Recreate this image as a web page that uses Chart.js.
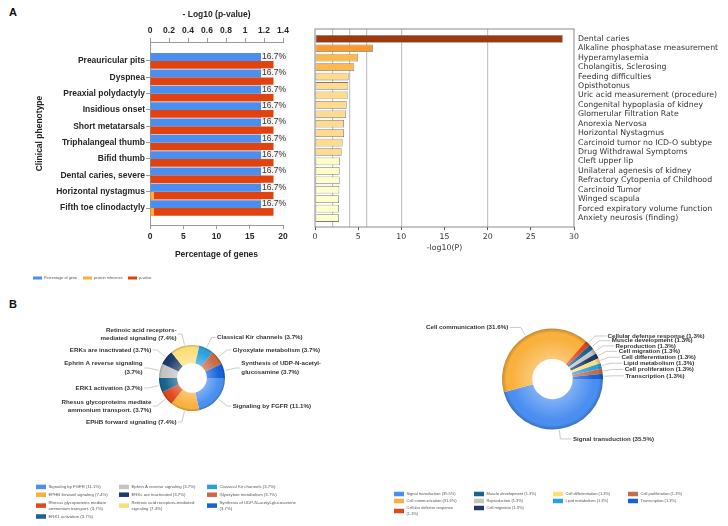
<!DOCTYPE html>
<html>
<head>
<meta charset="utf-8">
<script src="https://cdn.jsdelivr.net/npm/chart.js@4.4.1/dist/chart.umd.min.js"></script>
<style>
  html, body { margin: 0; padding: 0; background: #fff; }
  body { width: 728px; height: 526px; position: relative; overflow: hidden; }
  .box { position: absolute; }
  .tag { position: absolute; font: bold 11px/11px "Liberation Sans", Arial, sans-serif; color: #111; }
</style>
</head>
<body>
<div class="tag" style="left:9px;top:7px">A</div>
<div class="tag" style="left:9px;top:299px">B</div>
<div class="box" style="left:0;top:0;width:300px;height:290px"><canvas id="phenoChart"></canvas></div>
<div class="box" style="left:300px;top:20px;width:428px;height:240px"><canvas id="enrichChart"></canvas></div>
<div class="box" style="left:0;top:300px;width:364px;height:226px"><canvas id="pathwayChart"></canvas></div>
<div class="box" style="left:364px;top:300px;width:364px;height:226px"><canvas id="processChart"></canvas></div>
<script>
// panel A, left: clinical phenotypes
const phenotypes = ["Preauricular pits", "Dyspnea", "Preaxial polydactyly", "Insidious onset", "Short metatarsals",
  "Triphalangeal thumb", "Bifid thumb", "Dental caries, severe", "Horizontal nystagmus", "Fifth toe clinodactyly"];
const geneShare = [16.7, 16.7, 16.7, 16.7, 16.7, 16.7, 16.7, 16.7, 16.7, 16.7];
const proteinReference = [0, 0, 0, 0, 0, 0, 0, 0, 0.6, 0.6];
const phenoLogP = [1.3, 1.3, 1.3, 1.3, 1.3, 1.3, 1.3, 1.3, 1.3, 1.3];
const shareTicks = [0, 5, 10, 15, 20];
const logPTicks = [0, 0.2, 0.4, 0.6, 0.8, 1, 1.2, 1.4];

// panel A, right: enrichment terms
const enrichTerms = ["Dental caries", "Alkaline phosphatase measurement", "Hyperamylasemia", "Cholangitis, Sclerosing",
  "Feeding difficulties", "Opisthotonus", "Uric acid measurement (procedure)", "Congenital hypoplasia of kidney",
  "Glomerular Filtration Rate", "Anorexia Nervosa", "Horizontal Nystagmus", "Carcinoid tumor no ICD-O subtype",
  "Drug Withdrawal Symptoms", "Cleft upper lip", "Unilateral agenesis of kidney", "Refractory Cytopenia of Childhood",
  "Carcinoid Tumor", "Winged scapula", "Forced expiratory volume function", "Anxiety neurosis (finding)"];
const enrichLogP = [28.7, 6.7, 5.0, 4.55, 3.9, 3.85, 3.78, 3.67, 3.6, 3.36, 3.36, 3.2, 3.09, 2.9, 2.86, 2.86, 2.82, 2.78, 2.78, 2.78];
const enrichTicks = [0, 5, 10, 15, 20, 25, 30];
const enrichGuides = [2, 4, 6, 10, 20];

// panel B: pathways and biological processes
const pathways = ["Signaling by FGFR", "EPHB forward signaling", "Rhesus glycoproteins mediate ammonium transport.",
  "ERK1 activation", "Ephrin A reverse signaling", "ERKs are inactivated", "Retinoic acid receptors-mediated signaling",
  "Classical Kir channels", "Glyoxylate metabolism", "Synthesis of UDP-N-acetyl-glucosamine"];
const pathwayShare = [11.1, 7.4, 3.7, 3.7, 3.7, 3.7, 7.4, 3.7, 3.7, 3.7];
const processes = ["Signal transduction", "Cell communication", "Cellular defense response", "Muscle development",
  "Reproduction", "Cell migration", "Cell differentiation", "Lipid metabolism", "Cell proliferation", "Transcription"];
const processShare = [35.5, 31.6, 1.3, 1.3, 1.3, 1.3, 1.3, 1.3, 1.3, 1.3];

const ringColors = ["#4a8ef0", "#f9b03c", "#e2461c", "#17648f", "#c4c4c4", "#1d3b6b", "#fddf7a", "#2aa0de", "#c96a4a", "#1463d8"];

Chart.defaults.font.family = "'Liberation Sans', Arial, sans-serif";
Chart.defaults.color = "#262626";
Chart.defaults.animation = false;
Chart.defaults.plugins.legend.display = false;
Chart.defaults.plugins.tooltip.enabled = false;

function shade(hex, amt) {
  const n = parseInt(hex.slice(1), 16);
  const t = amt < 0 ? 0 : 255, p = Math.abs(amt);
  const mix = v => Math.round(v + (t - v) * p);
  return `rgb(${mix(n >> 16)},${mix((n >> 8) & 255)},${mix(n & 255)})`;
}

function ringFill(colors) {
  return c => {
    const base = colors[c.dataIndex];
    const chart = c.chart, area = chart.chartArea;
    const ctrl = chart.getDatasetMeta(0).controller;
    if (!area || !ctrl.outerRadius) return base;
    const cx = (area.left + area.right) / 2, cy = (area.top + area.bottom) / 2;
    const g = chart.ctx.createRadialGradient(cx, cy, ctrl.innerRadius, cx, cy, ctrl.outerRadius);
    g.addColorStop(0, shade(base, 0.3));
    g.addColorStop(0.7, base);
    g.addColorStop(0.86, base);
    g.addColorStop(1, shade(base, -0.22));
    return g;
  };
}

function wrapText(ctx, text, maxW, breakHyphen) {
  const parts = [];
  text.split(" ").forEach((w, i) => {
    const pieces = breakHyphen ? w.split(/(?<=-)/) : [w];
    pieces.forEach((p, j) => parts.push({ t: p, sep: (j === 0 && i > 0) ? " " : "" }));
  });
  const lines = [];
  let cur = "";
  parts.forEach(p => {
    const test = cur ? cur + p.sep + p.t : p.t;
    if (cur && ctx.measureText(test).width > maxW) { lines.push(cur); cur = p.t; }
    else cur = test;
  });
  if (cur) lines.push(cur);
  return lines;
}

function binColor(v) {
  if (v > 20) return "#9c3a0c";
  if (v > 6) return "#fb9a2c";
  if (v > 4) return "#fdb94e";
  if (v > 3) return "#fedb8e";
  return "#ffffcc";
}

// legend laid out in columns, items taken from the chart itself
const columnLegend = {
  id: "columnLegend",
  afterDraw(chart, args, o) {
    const { ctx } = chart;
    let items;
    if (chart.config.type === "doughnut") {
      const ds = chart.data.datasets[0];
      items = chart.data.labels.map((l, i) => ({ text: `${l} (${ds.data[i]}%)`, color: o.colors[i] }));
    } else {
      items = chart.data.datasets.map(d => ({ text: d.label, color: d.backgroundColor }));
    }
    ctx.save();
    ctx.font = o.font;
    ctx.textBaseline = "middle";
    ctx.textAlign = "left";
    let idx = 0;
    o.columns.forEach(col => {
      let y = o.top;
      for (let k = 0; k < col.count; k++, idx++) {
        const it = items[idx];
        const lines = wrapText(ctx, it.text, col.wrap, false);
        const h = lines.length * o.lineHeight;
        ctx.fillStyle = it.color;
        ctx.fillRect(col.x, y + h / 2 - o.boxH / 2, o.boxW, o.boxH);
        ctx.fillStyle = o.color;
        lines.forEach((ln, j) => ctx.fillText(ln, col.x + o.boxW + o.gap, y + o.lineHeight * (j + 0.5)));
        y += h + o.itemGap;
      }
    });
    ctx.restore();
  }
};

// "16.7%" tags at the end of the first dataset's bars
const barValueTags = {
  id: "barValueTags",
  afterDatasetsDraw(chart, args, o) {
    const { ctx } = chart;
    const ds = chart.data.datasets[0];
    ctx.save();
    ctx.font = o.font;
    ctx.textBaseline = "middle";
    chart.getDatasetMeta(0).data.forEach((bar, i) => {
      const txt = ds.data[i].x + "%";
      const w = ctx.measureText(txt).width;
      ctx.fillStyle = "rgba(244,244,244,0.95)";
      ctx.fillRect(bar.x, bar.y - 5, w + 2, 9);
      ctx.fillStyle = "#333";
      ctx.fillText(txt, bar.x + 1, bar.y - 0.5);
    });
    ctx.restore();
  }
};

const plotFrame = {
  id: "plotFrame",
  afterDatasetsDraw(chart, args, o) {
    const { ctx, chartArea: a } = chart;
    ctx.save();
    ctx.strokeStyle = o.color;
    ctx.lineWidth = o.width;
    ctx.strokeRect(a.left, a.top, a.width, a.height);
    ctx.restore();
  }
};

// labels with leader lines around a ring
const sliceLabels = {
  id: "sliceLabels",
  afterDatasetsDraw(chart, args, o) {
    const { ctx } = chart;
    const ds = chart.data.datasets[0];
    ctx.save();
    ctx.font = o.font;
    ctx.textBaseline = "middle";
    chart.getDatasetMeta(0).data.forEach((arc, i) => {
      const mid = (arc.startAngle + arc.endAngle) / 2;
      const cos = Math.cos(mid), sin = Math.sin(mid);
      const r0 = arc.outerRadius + 1, r1 = arc.outerRadius + o.reach;
      const x0 = arc.x + cos * r0, y0 = arc.y + sin * r0;
      const x1 = arc.x + cos * r1, y1 = arc.y + sin * r1;
      const right = cos >= 0;
      const x2 = x1 + (right ? o.gap : -o.gap);
      ctx.strokeStyle = o.lineColor;
      ctx.lineWidth = 0.7;
      ctx.beginPath();
      ctx.moveTo(x0, y0);
      ctx.lineTo(x1, y1);
      ctx.lineTo(x2, y1);
      ctx.stroke();
      const lines = wrapText(ctx, `${chart.data.labels[i]} (${ds.data[i]}%)`, o.wrap, true);
      ctx.fillStyle = o.color;
      ctx.textAlign = right ? "left" : "right";
      const top = y1 - (lines.length - 1) * o.lineHeight / 2;
      lines.forEach((ln, k) => ctx.fillText(ln, x2 + (right ? 1.5 : -1.5), top + k * o.lineHeight));
    });
    ctx.restore();
  }
};

const boldFont = { size: 8.5, weight: "bold" };
const axisGray = "#9a9a9a";

new Chart(document.getElementById("phenoChart"), {
  type: "bar",
  data: {
    datasets: [
      { label: "Percentage of gene", data: phenotypes.map((_, i) => ({ x: geneShare[i], y: i })),
        backgroundColor: "#4a8ef0", stack: "share", xAxisID: "x" },
      { label: "protein reference", data: phenotypes.map((_, i) => ({ x: proteinReference[i], y: i })),
        backgroundColor: "#f9b03c", stack: "sig", xAxisID: "x" },
      { label: "p-value", data: phenotypes.map((_, i) => ({ x: phenoLogP[i], y: i })),
        backgroundColor: "#e2420f", stack: "sig", xAxisID: "x2" }
    ]
  },
  options: {
    responsive: true,
    maintainAspectRatio: false,
    indexAxis: "y",
    datasets: { bar: { categoryPercentage: 0.96, barPercentage: 1 } },
    layout: { padding: { left: 30, top: 6, right: 17, bottom: 30 } },
    scales: {
      y: {
        type: "linear", reverse: true, min: -1.16, max: 10.04, stacked: true, offset: false,
        afterBuildTicks: s => { s.ticks = phenotypes.map((_, i) => ({ value: i })); },
        afterFit: s => { s.width = 120; },
        ticks: { font: boldFont, padding: 1, autoSkip: false, callback: v => phenotypes[v] },
        grid: { drawOnChartArea: false, offset: false, tickLength: 4, color: axisGray },
        border: { color: axisGray },
        title: { display: true, text: "Clinical phenotype", font: boldFont, padding: { top: 5, bottom: 0 } }
      },
      x: {
        position: "bottom", min: 0, max: 20,
        afterBuildTicks: s => { s.ticks = shareTicks.map(v => ({ value: v })); },
        afterFit: s => { s.height = 35; },
        ticks: { font: boldFont, padding: 3 },
        grid: { drawOnChartArea: false, tickLength: 4, color: axisGray },
        border: { color: axisGray },
        title: { display: true, text: "Percentage of genes", font: boldFont, padding: 0 }
      },
      x2: {
        position: "top", min: 0, max: 1.4,
        afterBuildTicks: s => { s.ticks = logPTicks.map(v => ({ value: v })); },
        afterFit: s => { s.height = 36; },
        ticks: { font: boldFont, padding: 2, callback: v => String(v) },
        grid: { drawOnChartArea: false, tickLength: 4, color: axisGray },
        border: { color: axisGray },
        title: { display: true, text: "- Log10 (p-value)", font: boldFont, padding: { top: 4, bottom: 0 } }
      }
    },
    plugins: {
      barValueTags: { font: "8.5px 'Liberation Sans', Arial, sans-serif" },
      columnLegend: {
        font: "3.8px 'Liberation Sans', Arial, sans-serif", color: "#555",
        top: 275.5, lineHeight: 5, itemGap: 0, boxW: 9, boxH: 3, gap: 2,
        columns: [{ x: 33, count: 1, wrap: 100 }, { x: 83, count: 1, wrap: 100 }, { x: 128, count: 1, wrap: 100 }]
      }
    }
  },
  plugins: [barValueTags, columnLegend]
});

const dejaVu = { family: "'DejaVu Sans', sans-serif", size: 7.8 };

new Chart(document.getElementById("enrichChart"), {
  type: "bar",
  data: {
    datasets: [{
      data: enrichTerms.map((_, i) => ({ x: enrichLogP[i], y: i })),
      backgroundColor: enrichLogP.map(binColor),
      borderColor: "#7a7a7a",
      borderWidth: 0.8,
      borderSkipped: false
    }]
  },
  options: {
    responsive: true,
    maintainAspectRatio: false,
    indexAxis: "y",
    datasets: { bar: { categoryPercentage: 1, barPercentage: 0.82 } },
    layout: { padding: { left: 15, top: 9, right: 0, bottom: 7 } },
    scales: {
      y: {
        type: "linear", position: "right", reverse: true, min: -1.04, max: 19.95, offset: false,
        afterBuildTicks: s => { s.ticks = enrichTerms.map((_, i) => ({ value: i })); },
        afterFit: s => { s.width = 154; },
        ticks: { font: dejaVu, color: "#333", padding: 4, autoSkip: false, callback: v => enrichTerms[v] },
        grid: { display: false, drawTicks: false, offset: false },
        border: { display: false }
      },
      x: {
        position: "bottom", min: 0, max: 30,
        afterBuildTicks: s => { s.ticks = enrichTicks.map(v => ({ value: v })); },
        afterFit: s => { s.height = 26; },
        ticks: { font: dejaVu, color: "#333", padding: 2 },
        grid: { drawOnChartArea: false, tickLength: 3, color: "#555" },
        border: { display: false },
        title: { display: true, text: "-log10(P)", font: dejaVu, color: "#333", padding: 0 }
      },
      xg: {
        position: "bottom", min: 0, max: 30,
        afterBuildTicks: s => { s.ticks = enrichGuides.map(v => ({ value: v })); },
        afterFit: s => { s.height = 0; },
        ticks: { display: false },
        grid: { color: "#c4c4c4", lineWidth: 1.2, drawTicks: false },
        border: { display: false }
      }
    },
    plugins: {
      plotFrame: { color: "#8a8a8a", width: 1 }
    }
  },
  plugins: [plotFrame]
});

const labelFont = "bold 6.2px 'Liberation Sans', Arial, sans-serif";

new Chart(document.getElementById("pathwayChart"), {
  type: "doughnut",
  data: {
    labels: pathways,
    datasets: [{ data: pathwayShare, backgroundColor: ringFill(ringColors), borderWidth: 0 }]
  },
  options: {
    responsive: true,
    maintainAspectRatio: false,
    rotation: 90,
    cutout: "45%",
    layout: { padding: { left: 159, right: 139, top: 45, bottom: 115 } },
    plugins: {
      sliceLabels: { font: labelFont, color: "#333", lineColor: "#b5b5b5", reach: 12, gap: 4, wrap: 97, lineHeight: 8.5 },
      columnLegend: {
        font: "4.3px 'Liberation Sans', Arial, sans-serif", color: "#555", colors: ringColors,
        top: 183.8, lineHeight: 6.2, itemGap: 1.6, boxW: 10, boxH: 4.5, gap: 2.5,
        columns: [{ x: 36, count: 4, wrap: 66 }, { x: 119, count: 3, wrap: 69 }, { x: 207, count: 3, wrap: 85 }]
      }
    }
  },
  plugins: [sliceLabels, columnLegend]
});

new Chart(document.getElementById("processChart"), {
  type: "doughnut",
  data: {
    labels: processes,
    datasets: [{ data: processShare, backgroundColor: ringFill(ringColors), borderWidth: 0 }]
  },
  options: {
    responsive: true,
    maintainAspectRatio: false,
    rotation: 90,
    cutout: "40%",
    layout: { padding: { left: 138, right: 125, top: 28.5, bottom: 96.5 } },
    plugins: {
      sliceLabels: { font: labelFont, color: "#333", lineColor: "#b5b5b5", reach: 10, gap: 11, wrap: 200, lineHeight: 8.5 },
      columnLegend: {
        font: "4px 'Liberation Sans', Arial, sans-serif", color: "#555", colors: ringColors,
        top: 191, lineHeight: 6, itemGap: 1, boxW: 10, boxH: 4.5, gap: 2.5,
        columns: [{ x: 30, count: 3, wrap: 58 }, { x: 110, count: 3, wrap: 70 }, { x: 189, count: 2, wrap: 70 }, { x: 264, count: 2, wrap: 70 }]
      }
    }
  },
  plugins: [sliceLabels, columnLegend]
});
</script>
</body>
</html>
